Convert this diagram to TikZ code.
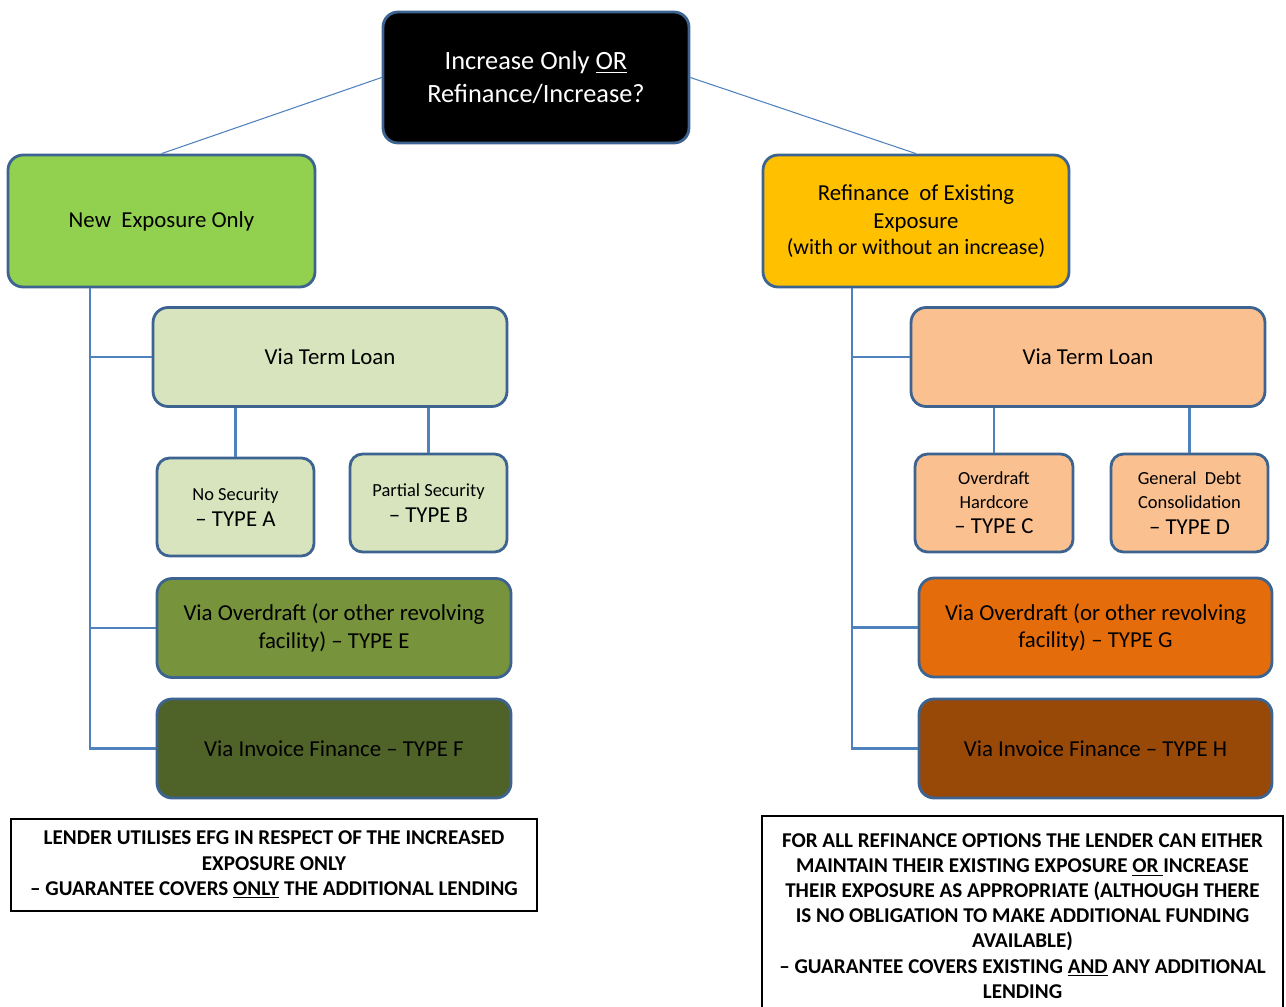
\documentclass[tikz,border=0pt]{standalone}
\usepackage{fontspec}
\setmainfont{Carlito}
\usepackage{tikz}
\usetikzlibrary{calc}

\definecolor{bordc}{HTML}{3D6390}
\definecolor{linkc}{HTML}{4F81BD}
\definecolor{grnA}{HTML}{92D050}
\definecolor{grnB}{HTML}{D7E4BD}
\definecolor{grnC}{HTML}{77933C}
\definecolor{grnD}{HTML}{4F6228}
\definecolor{orgA}{HTML}{FFC000}
\definecolor{orgB}{HTML}{FAC090}
\definecolor{orgC}{HTML}{E46C0A}
\definecolor{orgD}{HTML}{984807}

\newcommand{\bigtxt}{\fontsize{13}{15.5}\selectfont}
\newcommand{\smtxt}{\fontsize{10.5}{13.5}\selectfont}

\begin{document}
\begin{tikzpicture}[x=0.02cm,y=-0.02cm,
  box/.style={draw=bordc,line width=1.6pt,rounded corners=0.3cm,align=center,inner sep=0pt,font=\bigtxt},
  wide/.style={box,minimum width=7.08cm,minimum height=1.98cm},
  small/.style={box,rounded corners=0.25cm,minimum width=3.14cm,minimum height=1.96cm},
  lnk/.style={draw=linkc,line width=1.2pt},
  note/.style={draw=black,line width=1.5pt,fill=white,align=center,inner sep=0pt,font=\fontsize{12}{14.3}\selectfont\bfseries}]
\useasboundingbox (0,0) rectangle (1286,1007);

% top of the tree
\node[box,fill=black,text=white,minimum width=6.12cm,minimum height=2.62cm,font=\fontsize{15}{18.7}\selectfont] (top) at (536,77.5) {Increase Only \underline{OR}\\Refinance/Increase?};
\node[box,fill=grnA,minimum width=6.14cm,minimum height=2.64cm] (newexp) at (161.5,221) {New\ \ Exposure Only};
\node[box,fill=orgA,minimum width=6.12cm,minimum height=2.64cm] (refin) at (916,221) {Refinance\ \ of Existing\\[0.5pt]Exposure\\[-1pt]\fontsize{12.5}{15}\selectfont(with or without an increase)};
\draw[draw=linkc,line width=0.6pt] (top.west) -- (newexp.north);
\draw[draw=linkc,line width=0.6pt] (top.east) -- (refin.north);

% new exposure side
\node[wide,fill=grnB] (termL) at (330,357) {Via Term Loan};
\node[small,fill=grnB] (nosec) at (235.5,507) {\smtxt No Security\\[-1pt]\bigtxt -- TYPE A};
\node[small,fill=grnB] (partsec) at (428.5,503) {\smtxt Partial Security\\[-1pt]\bigtxt -- TYPE B};
\node[wide,fill=grnC] (odL) at (334,628) {Via Overdraft (or other revolving\\facility) -- TYPE E};
\node[wide,fill=grnD] (invL) at (334,748.5) {Via Invoice Finance -- TYPE F};
\coordinate (ltrunk) at (90,0);
\draw[lnk] (newexp.south -| ltrunk) |- (termL.west);
\draw[lnk] (newexp.south -| ltrunk) |- (odL.west);
\draw[lnk] (newexp.south -| ltrunk) |- (invL.west);
\draw[lnk] (nosec.north |- termL.south) -- (nosec.north);
\draw[lnk] (partsec.north |- termL.south) -- (partsec.north);

% refinance side
\node[wide,fill=orgB] (termR) at (1088,357) {Via Term Loan};
\node[small,fill=orgB,minimum width=3.16cm] (odhc) at (994,503) {\smtxt Overdraft\\[-2pt]\smtxt Hardcore\\[-1pt]\bigtxt -- TYPE C};
\node[small,fill=orgB] (gdc) at (1189.5,503) {\smtxt General\ \ Debt\\[-2pt]\smtxt Consolidation\\[-1pt]\bigtxt -- TYPE D};
\node[wide,fill=orgC,minimum width=7.06cm] (odR) at (1095.5,627.5) {Via Overdraft (or other revolving\\facility) -- TYPE G};
\node[wide,fill=orgD,minimum width=7.06cm] (invR) at (1095.5,748.5) {Via Invoice Finance -- TYPE H};
\coordinate (rtrunk) at (852,0);
\draw[lnk] (refin.south -| rtrunk) |- (termR.west);
\draw[lnk] (refin.south -| rtrunk) |- (odR.west);
\draw[lnk] (refin.south -| rtrunk) |- (invR.west);
\draw[lnk] (odhc.north |- termR.south) -- (odhc.north);
\draw[lnk] (gdc.north |- termR.south) -- (gdc.north);

% notes
\node[note,minimum width=10.52cm,minimum height=1.84cm] (noteL) at (274,865) {LENDER UTILISES EFG IN RESPECT OF THE INCREASED\\EXPOSURE ONLY\\-- GUARANTEE COVERS \underline{ONLY} THE ADDITIONAL LENDING};
\node[note,minimum width=10.42cm,minimum height=4.0cm] (noteR) at (1022.5,916) {FOR ALL REFINANCE OPTIONS THE LENDER CAN EITHER\\MAINTAIN THEIR EXISTING EXPOSURE \underline{OR }INCREASE\\THEIR EXPOSURE AS APPROPRIATE (ALTHOUGH THERE\\IS NO OBLIGATION TO MAKE ADDITIONAL FUNDING\\AVAILABLE)\\-- GUARANTEE COVERS EXISTING \underline{AND} ANY ADDITIONAL\\LENDING};
\end{tikzpicture}
\end{document}
